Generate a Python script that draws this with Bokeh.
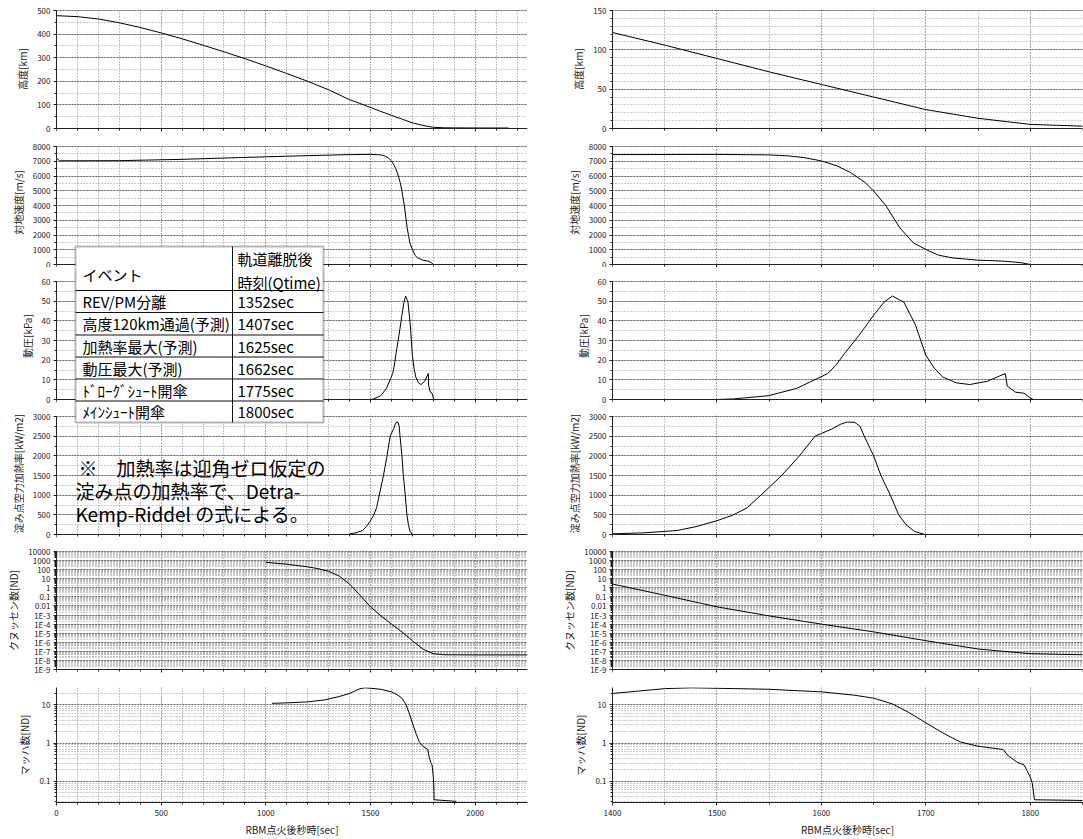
import math
from bokeh.plotting import figure
from bokeh.layouts import row, column
from bokeh.models import (Range1d, SingleIntervalTicker, FixedTicker,
                          CustomJSTickFormatter, BoxAnnotation, Label)
from bokeh.embed import file_html
from bokeh.resources import INLINE

# ---------------- data ----------------
ALT_T = [0, 100, 200, 300, 400, 500, 600, 700, 800, 900, 1000, 1100, 1200, 1300,
         1400, 1450, 1500, 1550, 1600, 1650, 1700, 1750, 1800, 1850, 1900, 2000, 2160]
ALT_KM = [478, 474, 464, 448, 428, 405, 380, 353, 325, 296, 265, 233, 200, 164,
          122, 106, 89, 72, 56, 40, 24, 13, 5.2, 3.0, 2.5, 2.2, 2.0]

VEL_T = [0, 15, 300, 600, 900, 1200, 1400, 1500, 1550, 1568, 1583, 1600, 1615, 1628,
         1642, 1650, 1662, 1675, 1688, 1700, 1712, 1725, 1750, 1775, 1792, 1800, 2160]
VEL_MS = [7220, 7030, 7040, 7130, 7260, 7380, 7450, 7465, 7430, 7365, 7250, 7025, 6685, 6230,
          5550, 4985, 3966, 2490, 1473, 1020, 635, 453, 295, 227, 113, 0, 0]

Q_T = [1500, 1516, 1549, 1576, 1596, 1606, 1614, 1622, 1636, 1650, 1660, 1668, 1679,
       1690, 1700, 1708, 1716, 1729, 1742, 1759, 1776, 1778, 1786, 1794, 1800, 1803]
Q_KPA = [0, 0.3, 1.9, 5.6, 10.6, 13.2, 17.5, 23.3, 32.6, 42.8, 49.5, 52.6, 49.5,
         38, 22.5, 16, 11.5, 8.5, 7.6, 9.3, 13.2, 6.8, 3.7, 3.2, 0.8, 0]

HEAT_T = [1400, 1430, 1462, 1480, 1500, 1515, 1529, 1542, 1562, 1579, 1594, 1600, 1610,
          1618, 1625, 1632, 1637, 1641, 1650, 1657, 1666, 1674, 1681, 1689, 1699]
HEAT_KW = [17, 42, 102, 200, 350, 490, 680, 1000, 1500, 2000, 2500, 2570, 2680,
           2800, 2860, 2850, 2750, 2500, 2000, 1500, 1000, 500, 250, 80, 0]

KN_T = [1000, 1100, 1200, 1250, 1300, 1350, 1400, 1450, 1500, 1550, 1600, 1650,
        1700, 1750, 1800, 1850, 2000, 2250]
KN = [650, 400, 200, 130, 65, 20, 2.6, 0.15, 0.008, 8e-4, 1e-4, 1.4e-5,
      1.5e-6, 1.8e-7, 5.5e-8, 4.2e-8, 4e-8, 4e-8]

MACH_T = [1030, 1100, 1200, 1280, 1350, 1400, 1450, 1475, 1500, 1550, 1600, 1631, 1650,
          1668, 1683, 1700, 1717, 1733, 1750, 1774, 1779, 1788, 1794, 1800, 1802, 1804, 1910]
MACH = [11, 11.3, 12, 13.5, 16.5, 19.9, 26.6, 28, 27.2, 25.6, 21.9, 18, 15,
        10.6, 6.5, 3.4, 1.8, 1.07, 0.83, 0.68, 0.46, 0.31, 0.27, 0.13, 0.087, 0.033, 0.03]

KN_EXPS = [-9, -8, -7, -6, -5, -4, -3, -2, -1, 0, 1, 2, 3, 4]
KN_TICK_LABELS = ["1E-9", "1E-8", "1E-7", "1E-6", "1E-5", "1E-4", "1E-3",
                  "0.01", "0.1", "1", "10", "100", "1000", "10000"]
MACH_EXPS = [-1, 0, 1]
MACH_TICK_LABELS = ["0.1", "1", "10"]

X_TITLE = "RBM点火後秒時[sec]"
Y_TITLES = ["高度[km]", "対地速度[m/s]", "動圧[kPa]", "淀み点空力加熱率[kW/m2]",
            "クヌッセン数[ND]", "マッハ数[ND]"]

TABLE_HEAD = ["イベント", "軌道離脱後", "時刻(Qtime)"]
EVENTS = ["REV/PM分離", "高度120km通過(予測)", "加熱率最大(予測)", "動圧最大(予測)",
          "ﾄﾞﾛｰｸﾞｼｭｰﾄ開傘", "ﾒｲﾝｼｭｰﾄ開傘"]
EVENT_TIMES = ["1352sec", "1407sec", "1625sec", "1662sec", "1775sec", "1800sec"]
NOTE_LINES = ["※　加熱率は迎角ゼロ仮定の", "淀み点の加熱率で、Detra-", "Kemp-Riddel の式による。"]

SERIES = [(ALT_T, ALT_KM), (VEL_T, VEL_MS), (Q_T, Q_KPA), (HEAT_T, HEAT_KW), (KN_T, KN), (MACH_T, MACH)]

# ---------------- layout / style ----------------
FONT = "Noto Sans CJK JP"
INK = "#222222"

COLS = {
    "left": dict(xr=(0, 2250), xint=500, xminor=5, w=540, bl=56, br=13),
    "right": dict(xr=(1400, 1850), xint=100, xminor=2, w=543, bl=72, br=1),
}
# canvas height of each row and absolute pixel span (top, bottom) of its plotting panel
ROWS = [dict(h=137, panel=(10, 128)), dict(h=130, panel=(146, 264)),
        dict(h=137, panel=(281, 399)), dict(h=138, panel=(416, 534)),
        dict(h=136, panel=(551, 669)), dict(h=161, panel=(687, 806))]
ROW_TOP = [sum(r["h"] for r in ROWS[:i]) for i in range(len(ROWS))]

PANELS = [
    dict(log=False, yr={"left": (0, 500), "right": (0, 150)}, tick={"left": (100, 2), "right": (50, 5)}),
    dict(log=False, yr={"left": (0, 8000), "right": (0, 8000)}, tick={"left": (1000, 2), "right": (1000, 2)}),
    dict(log=False, yr={"left": (0, 60), "right": (0, 60)}, tick={"left": (10, 2), "right": (10, 2)}),
    dict(log=False, yr={"left": (0, 3000), "right": (0, 3000)}, tick={"left": (500, 2), "right": (500, 2)}),
    dict(log=True, yr={"left": (1e-9, 1e4), "right": (1e-9, 1e4)}, exps=KN_EXPS, labels=KN_TICK_LABELS),
    dict(log=True, yr={"left": (0.028, 28.5), "right": (0.028, 28.5)}, exps=MACH_EXPS, labels=MACH_TICK_LABELS),
]

LOG_JS = """
const e = Math.round(Math.log10(tick));
const i = exps.indexOf(e);
return i >= 0 ? labels[i] : "";
"""


def y_at(ri, ci, Y):
    """absolute page pixel row -> data value of panel (ri, ci)"""
    spec = PANELS[ri]
    y0, y1 = spec["yr"][ci]
    top, bot = ROWS[ri]["panel"]
    f = (bot - Y) / (bot - top)
    if spec["log"]:
        l0, l1 = math.log10(y0), math.log10(y1)
        return 10 ** (l0 + f * (l1 - l0))
    return y0 + f * (y1 - y0)


def x_at(ci, X):
    c = COLS[ci]
    fw = c["w"] - c["bl"] - c["br"]
    return c["xr"][0] + (X - c["bl"]) / fw * (c["xr"][1] - c["xr"][0])


def make_panel(ci, ri):
    col = COLS[ci]
    spec = PANELS[ri]
    yr = spec["yr"][ci]
    last = ri == len(ROWS) - 1
    top, bot = ROWS[ri]["panel"]
    if last:
        rng = yr
        bt, bb = top - ROW_TOP[ri], ROW_TOP[ri] + ROWS[ri]["h"] - bot
    else:
        # frame fills the whole canvas height; panel occupies its sub-band
        rng = (y_at(ri, ci, ROW_TOP[ri] + ROWS[ri]["h"]), y_at(ri, ci, ROW_TOP[ri]))
        bt, bb = 0, 0
    p = figure(width=col["w"], height=ROWS[ri]["h"],
               x_range=Range1d(*col["xr"]), y_range=Range1d(*rng),
               y_axis_type="log" if spec["log"] else "linear",
               output_backend="svg", toolbar_location=None, tools="",
               min_border_left=col["bl"], min_border_right=col["br"],
               min_border_top=bt, min_border_bottom=bb,
               background_fill_color="white", border_fill_color="white",
               outline_line_color=None)

    # y axis
    if spec["log"]:
        lo, hi = yr
        minors = [m * 10.0 ** e for e in range(min(spec["exps"]) - 2, max(spec["exps"]) + 2)
                  for m in range(2, 10) if lo <= m * 10.0 ** e <= hi]
        p.yaxis.ticker = FixedTicker(ticks=[10.0 ** e for e in spec["exps"]], minor_ticks=minors)
        p.yaxis.formatter = CustomJSTickFormatter(args=dict(exps=spec["exps"], labels=spec["labels"]),
                                                  code=LOG_JS)
    else:
        iv, nm = spec["tick"][ci]
        p.yaxis.ticker = SingleIntervalTicker(interval=iv, num_minor_ticks=nm)
    p.xaxis.ticker = SingleIntervalTicker(interval=col["xint"], num_minor_ticks=col["xminor"])

    for ax in (p.xaxis[0], p.yaxis[0]):
        ax.axis_line_color = INK
        ax.major_tick_line_color = INK
        ax.minor_tick_line_color = INK
        ax.major_label_text_font = FONT
        ax.major_label_text_font_size = "8px"
        ax.major_label_text_color = INK
        ax.axis_label_text_font = FONT
        ax.axis_label_text_font_size = "10px"
        ax.axis_label_text_font_style = "normal"
        ax.axis_label_text_color = INK

    ya = p.yaxis[0]
    ya.bounds = yr
    ya.major_tick_out, ya.major_tick_in = 3, 0
    ya.minor_tick_out, ya.minor_tick_in = 2, 0
    ya.major_label_standoff = 3
    ya.axis_label = Y_TITLES[ri]
    ya.axis_label_standoff = 4

    xa = p.xaxis[0]
    xa.major_tick_out, xa.major_tick_in = 3, 0
    xa.minor_tick_out, xa.minor_tick_in = 2, 0
    if not last:
        xa.fixed_location = yr[0]
        xa.formatter = CustomJSTickFormatter(code="return '';")
        xa.major_label_text_font_size = "0px"
        xa.major_label_standoff = 0
    else:
        xa.major_label_standoff = 4
        xa.axis_label = X_TITLE
        xa.axis_label_standoff = 3

    # grids
    p.xgrid.grid_line_color = "#888888"
    p.xgrid.grid_line_dash = "1 2"
    p.xgrid.minor_grid_line_color = "#888888"
    p.xgrid.minor_grid_line_dash = "1 2"
    p.ygrid.bounds = yr
    p.ygrid.grid_line_color = "#666666"
    p.ygrid.grid_line_dash = "2 1"
    p.ygrid.minor_grid_line_color = "#9a9a9a"
    p.ygrid.minor_grid_line_dash = "1 2"

    if not last:
        # blank the strips above and below the panel (the gaps between panels)
        x0, x1 = col["xr"]
        canvas_top, canvas_bot = ROW_TOP[ri], ROW_TOP[ri] + ROWS[ri]["h"]
        p.add_layout(BoxAnnotation(left=x0, right=x1, top=y_at(ri, ci, canvas_top - 5),
                                   bottom=y_at(ri, ci, top - 1), fill_color="white",
                                   fill_alpha=1.0, line_color=None, level="underlay"))
        p.add_layout(BoxAnnotation(left=x0, right=x1, top=y_at(ri, ci, bot + 1),
                                   bottom=y_at(ri, ci, canvas_bot + 5), fill_color="white",
                                   fill_alpha=1.0, line_color=None, level="underlay"))

    t, v = SERIES[ri]
    p.line(t, v, line_color="black", line_width=1)
    return p


# ------------- table and note (left column, spanning rows 1..3) -------------
TX = (75, 232, 323)
TY = [246, 290, 312, 334.5, 356.5, 378.5, 400.5, 422]


def add_box(p, ri, L, R, T, B, **kw):
    p.add_layout(BoxAnnotation(left=x_at("left", L), right=x_at("left", R),
                               top=y_at(ri, "left", T), bottom=y_at(ri, "left", B),
                               level="overlay", **kw))


def add_text(p, ri, X, Y, txt, size):
    p.add_layout(Label(x=x_at("left", X), y=y_at(ri, "left", Y), text=txt, text_font=FONT,
                       text_font_size=size, text_color="black", text_align="left",
                       text_baseline="middle", level="overlay"))


def decorate_table(p, ri):
    add_box(p, ri, TX[0], TX[2], TY[0], TY[-1], fill_color="white", fill_alpha=1.0, line_color=None)
    for Y in TY[1:-1]:
        add_box(p, ri, TX[0], TX[2], Y - 0.5, Y + 0.5, fill_color="#111111", fill_alpha=1.0, line_color=None)
    add_box(p, ri, TX[1] - 0.5, TX[1] + 0.5, TY[0], TY[-1], fill_color="#111111", fill_alpha=1.0, line_color=None)
    add_box(p, ri, TX[0], TX[2], TY[0], TY[-1], fill_color=None, line_color="#111111", line_width=2)


left = [make_panel("left", r) for r in range(len(ROWS))]
right = [make_panel("right", r) for r in range(len(ROWS))]

for r in (1, 2, 3):
    decorate_table(left[r], r)

# texts: (text, x, y, size); each goes into the row whose canvas holds it
texts = [(TABLE_HEAD[0], 82, 274, "15px"), (TABLE_HEAD[1], 237, 258, "15px"),
         (TABLE_HEAD[2], 237, 281.5, "15px")]
for i, (ev, tm) in enumerate(zip(EVENTS, EVENT_TIMES)):
    yc = (TY[i + 1] + TY[i + 2]) / 2
    texts.append((ev, 82, yc, "15px"))
    texts.append((tm, 237, yc, "15px"))
for i, line in enumerate(NOTE_LINES):
    texts.append((line, 78 if i == 0 else 75, 467 + 23 * i, "19px"))

for txt, X, Y, size in texts:
    for r in range(len(ROWS)):
        if ROW_TOP[r] <= Y < ROW_TOP[r] + ROWS[r]["h"]:
            add_text(left[r], r, X, Y, txt, size)
            break

layout = row(column(*left), column(*right))
open("out.html", "w").write(file_html(layout, INLINE, title="再突入軌道"))
